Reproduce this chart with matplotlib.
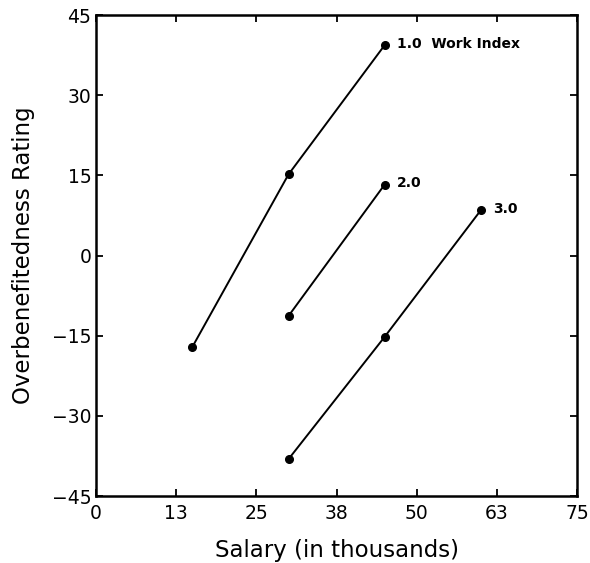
import matplotlib.pyplot as plt
import numpy as np

# salary (thousands) and overbenefitedness ratings per work index
salary_1 = [15, 30, 45]
rating_1 = [-17.1, 15.2, 39.4]
salary_2 = [30, 45]
rating_2 = [-11.3, 13.3]
salary_3 = [30, 45, 60]
rating_3 = [-38.1, -15.2, 8.5]
series_labels = ['1.0  Work Index', '2.0', '3.0']

x_ticks = np.arange(0, 75.1, 12.5)
x_tick_labels = ['0', '13', '25', '38', '50', '63', '75']
y_ticks = np.arange(-45, 46, 15)

fig = plt.figure(figsize=(5.9, 5.63), dpi=100)
ax = fig.add_axes([0.163, 0.119, 0.815, 0.854])

for xs, ys, lab in zip([salary_1, salary_2, salary_3],
                       [rating_1, rating_2, rating_3], series_labels):
    ax.plot(xs, ys, color='black', linewidth=1.4, marker='o', markersize=5.5)
    ax.annotate(lab, (xs[-1], ys[-1]), xytext=(9, 1), textcoords='offset points',
                fontsize=10, fontweight='bold', va='center', ha='left')

ax.set_xlim(0, 75)
ax.set_ylim(-45, 45)
ax.set_xticks(x_ticks)
ax.set_xticklabels(x_tick_labels)
ax.set_yticks(y_ticks)
ax.tick_params(direction='in', length=5, width=1.3, top=True, right=True,
               labeltop=False, labelright=False, labelsize=13.5)
ax.tick_params(axis='x', pad=6)
for s in ax.spines.values():
    s.set_linewidth(1.8)

ax.set_xlabel('Salary (in thousands)', fontsize=16.5, labelpad=11)
ax.set_ylabel('Overbenefitedness Rating', fontsize=16.5, labelpad=12)

plt.savefig('out.png', dpi=100)
